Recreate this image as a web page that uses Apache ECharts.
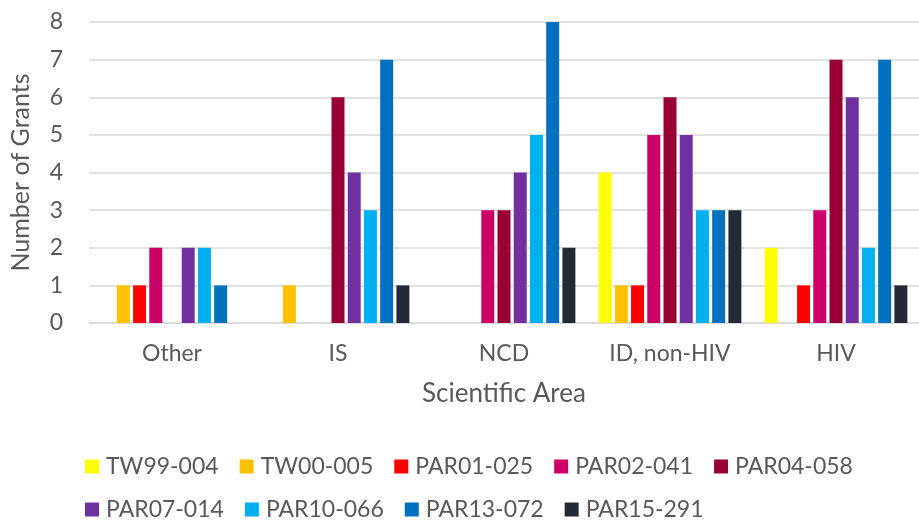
<!DOCTYPE html>
<html><head><meta charset="utf-8">
<script src="https://cdn.jsdelivr.net/npm/echarts@6/dist/echarts.min.js"></script>
<style>html,body{margin:0;padding:0;background:#fff}#c{width:919px;height:520px}</style>
</head><body><div id="c"></div>
<script>
const categories = ['Other', 'IS', 'NCD', 'ID, non-HIV', 'HIV'];
const seriesNames = ['TW99-004','TW00-005','PAR01-025','PAR02-041','PAR04-058','PAR07-014','PAR10-066','PAR13-072','PAR15-291'];
const TW99_004  = [0, 0, 0, 4, 2];
const TW00_005  = [1, 1, 0, 1, 0];
const PAR01_025 = [1, 0, 0, 1, 1];
const PAR02_041 = [2, 0, 3, 5, 3];
const PAR04_058 = [0, 6, 3, 6, 7];
const PAR07_014 = [2, 4, 4, 5, 6];
const PAR10_066 = [2, 3, 5, 3, 2];
const PAR13_072 = [1, 7, 8, 3, 7];
const PAR15_291 = [0, 1, 2, 3, 1];
const yTicks = [0,1,2,3,4,5,6,7,8];
const allValues = [TW99_004, TW00_005, PAR01_025, PAR02_041, PAR04_058, PAR07_014, PAR10_066, PAR13_072, PAR15_291];
const colors = ['#FFFF00','#FFC000','#FF0000','#CC0066','#990033','#7030A0','#00B0F0','#0070C0','#222A35'];

const FONT = 'Lato';
const TXT = '#595959';
const chart = echarts.init(document.getElementById('c'), null, {renderer:'canvas'});
const legendText = {fontFamily: FONT, fontSize: 23, color: TXT, padding: [0,0,0,2]};
chart.setOption({
  animation: false,
  color: colors,
  grid: {left: 88, right: 0, top: 22, bottom: 197, containLabel: false},
  legend: [
    {data: seriesNames.slice(0,5), left: 80, top: 450, itemWidth: 14, itemHeight: 14, itemGap: 21, icon: 'rect', textStyle: legendText},
    {data: seriesNames.slice(5), left: 80, top: 493, itemWidth: 14, itemHeight: 14, itemGap: 21, icon: 'rect', textStyle: legendText}
  ],
  xAxis: {
    type: 'category', data: categories,
    name: 'Scientific Area', nameLocation: 'middle', nameGap: 58,
    nameTextStyle: {fontFamily: FONT, fontSize: 26, color: TXT},
    axisLine: {lineStyle: {color: '#d9d9d9', width: 1.5}},
    axisTick: {show: false},
    axisLabel: {fontFamily: FONT, fontSize: 23, color: TXT, margin: 19}
  },
  yAxis: {
    type: 'value', min: yTicks[0], max: yTicks[yTicks.length-1], interval: 1,
    name: 'Number of Grants', nameLocation: 'middle', nameGap: 56,
    nameTextStyle: {fontFamily: FONT, fontSize: 25, color: TXT},
    axisLine: {show: false}, axisTick: {show: false},
    axisLabel: {fontFamily: FONT, fontSize: 23, color: TXT, margin: 26},
    splitLine: {lineStyle: {color: '#d9d9d9', width: 1.5}}
  },
  series: seriesNames.map((n, i) => ({
    name: n, type: 'bar', data: allValues[i],
    barGap: '25%', barCategoryGap: '14%'
  }))
});
</script></body></html>
